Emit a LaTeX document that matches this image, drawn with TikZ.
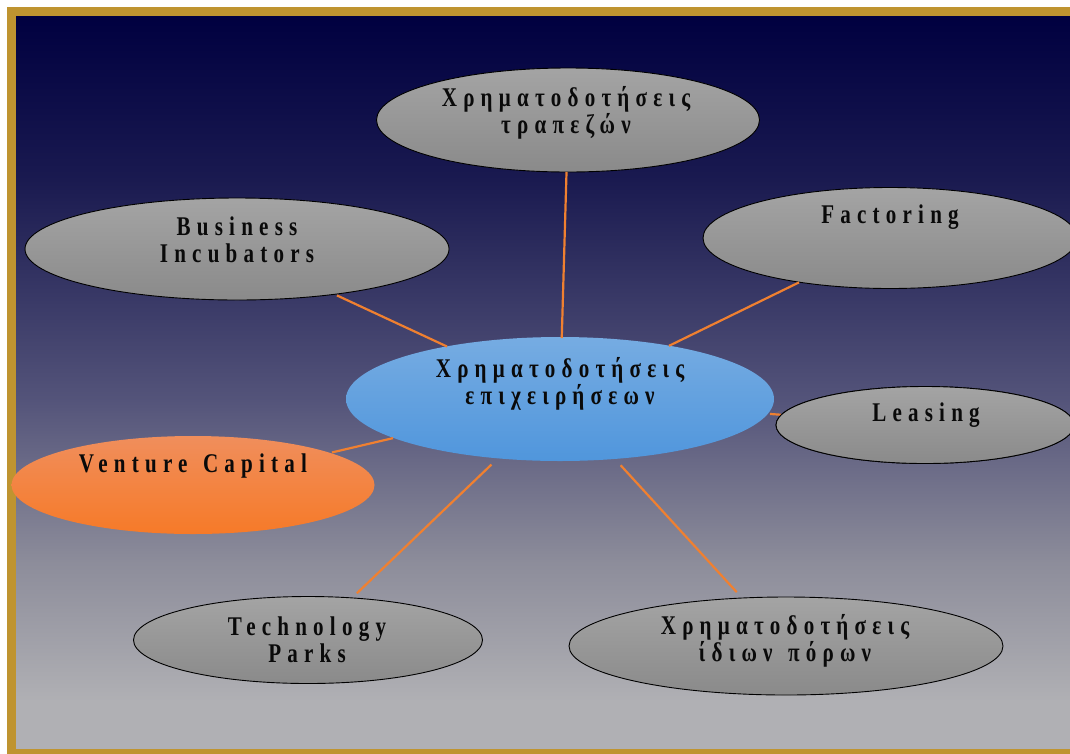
\documentclass[tikz,border=0pt]{standalone}
\usepackage{fontspec}
\setmainfont{Liberation Serif}
\newfontfamily\labfont[LetterSpace=23,FakeStretch=0.78,WordSpace=1.35]{Liberation Serif}
\usetikzlibrary{shapes.geometric}
\definecolor{goldframe}{RGB}{191,148,48}
\definecolor{bgA}{RGB}{0,0,64}
\definecolor{bgB}{RGB}{26,26,80}
\definecolor{bgC}{RGB}{84,84,122}
\definecolor{bgD}{RGB}{140,140,154}
\definecolor{bgE}{RGB}{176,176,180}
\definecolor{grayTop}{RGB}{164,164,164}
\definecolor{grayBot}{RGB}{138,138,138}
\definecolor{blueTop}{RGB}{118,172,226}
\definecolor{blueBot}{RGB}{80,150,220}
\definecolor{orTop}{RGB}{240,142,92}
\definecolor{orBot}{RGB}{246,122,40}
\definecolor{conncol}{RGB}{240,128,48}
\definecolor{txt}{RGB}{10,10,10}
\tikzset{
  grayell/.style={ellipse, draw=black, line width=0.9pt, top color=grayTop, bottom color=grayBot, inner sep=0pt},
  blueell/.style={ellipse, top color=blueTop, bottom color=blueBot, inner sep=0pt},
  orell/.style={ellipse, top color=orTop, bottom color=orBot, inner sep=0pt},
  lab/.style={align=center, text=txt, font=\labfont\bfseries\fontsize{27}{27.5}\selectfont, inner sep=0pt},
  conn/.style={draw=conncol, line width=2.2pt}
}
\begin{document}
\begin{tikzpicture}[x=1pt,y=-1pt]
\useasboundingbox (0,0) rectangle (1070,753);
\clip (0,0) rectangle (1070,753);
\fill[white] (0,0) rectangle (1070,753);
\fill[goldframe] (7,7) rectangle (1090,770);
% background gradient
\shade[top color=bgA, bottom color=bgB] (16,16) rectangle (1070,181);
\shade[top color=bgB, bottom color=bgC] (16,180) rectangle (1070,401);
\shade[top color=bgC, bottom color=bgD] (16,400) rectangle (1070,561);
\shade[top color=bgD, bottom color=bgE] (16,560) rectangle (1070,701);
\fill[bgE] (16,700) rectangle (1070,749);

% ellipses
\node[grayell, minimum width=383pt, minimum height=104pt] (top) at (568,120) {};
\node[grayell, minimum width=424pt, minimum height=102pt] (bus) at (237,249) {};
\node[grayell, minimum width=374pt, minimum height=101pt] (fac) at (890,238) {};
\node[grayell, minimum width=298pt, minimum height=77pt] (lea) at (925,425) {};
\node[grayell, minimum width=349pt, minimum height=87pt] (tec) at (308,640) {};
\node[grayell, minimum width=434pt, minimum height=98pt] (idi) at (786,646) {};
\node[orell, minimum width=363pt, minimum height=98pt] (ven) at (193,485) {};
\node[blueell, minimum width=428pt, minimum height=124pt] (cen) at (560,399) {};

% connectors
\draw[conn, shorten <=61pt, shorten >=52pt] (cen.center) -- (top.center);
\draw[conn, shorten <=124.6pt, shorten >=110.2pt] (cen.center) -- (bus.center);
\draw[conn, shorten <=121.3pt, shorten >=101.3pt] (cen.center) -- (fac.center);
\draw[conn, shorten <=210.5pt, shorten >=144.4pt] (cen.center) -- (lea.center);
\draw[conn, shorten <=171.5pt, shorten >=142.7pt] (cen.center) -- (ven.center);
\draw[conn, shorten <=94.9pt, shorten >=67.7pt] (cen.center) -- (tec.center);
\draw[conn, shorten <=89.8pt, shorten >=73pt] (cen.center) -- (idi.center);

% leasing ellipse drawn over the line end
\node[grayell, minimum width=298pt, minimum height=77pt] (lea2) at (925,425) {};

% labels
\node[lab] (tTop) at (566,113) {Χρηματοδοτήσεις\\τραπεζών};
\node[lab] (tBus) at (237,240) {Business\\Incubators};
\node[lab] (tFac) at (890,217) {Factoring};
\node[lab] (tCen) at (560,384) {Χρηματοδοτήσεις\\επιχειρήσεων};
\node[lab] (tLea) at (926,415) {Leasing};
\node[lab] (tVen) at (193,466) {Venture Capital};
\node[lab] (tTec) at (307,640) {Technology\\Parks};
\node[lab] (tIdi) at (785,641) {Χρηματοδοτήσεις\\ίδιων πόρων};
\end{tikzpicture}
\end{document}
